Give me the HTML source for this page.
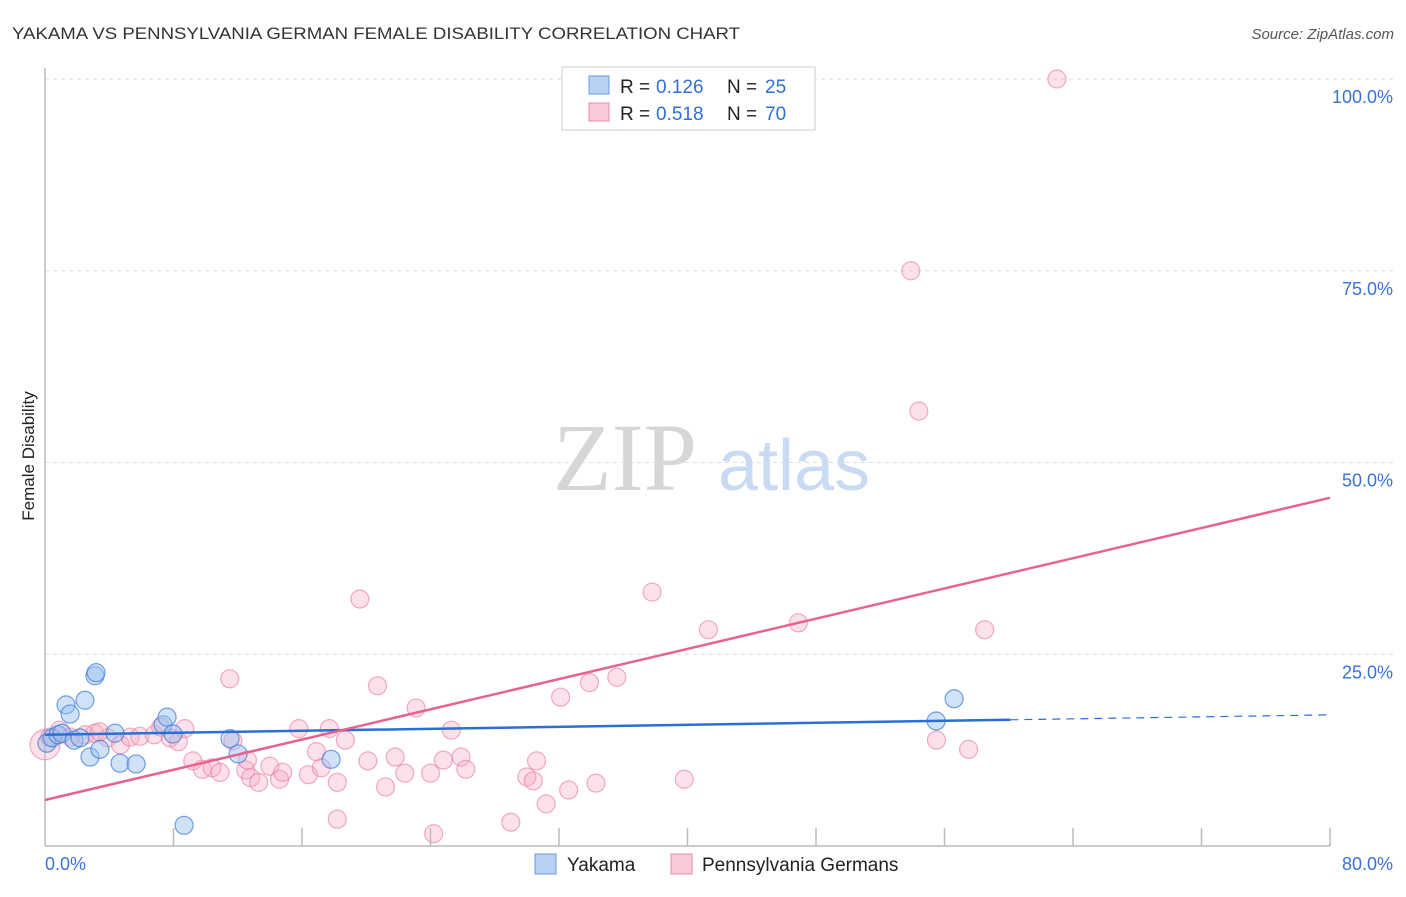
<!DOCTYPE html>
<html><head><meta charset="utf-8"><style>
body{margin:0;background:#fff;font-family:"Liberation Sans",sans-serif;}
svg text{font-family:"Liberation Sans",sans-serif;}
</style></head><body>
<svg id="chart" width="1406" height="892" xmlns="http://www.w3.org/2000/svg">
<text x="12" y="39" font-size="17" fill="#333" textLength="728" lengthAdjust="spacingAndGlyphs">YAKAMA VS PENNSYLVANIA GERMAN FEMALE DISABILITY CORRELATION CHART</text>
<text x="1394" y="39" font-size="15" fill="#555" text-anchor="end" font-style="italic">Source: ZipAtlas.com</text>
<text transform="translate(34,456) rotate(-90)" font-size="17" fill="#222" text-anchor="middle">Female Disability</text>
<g>
<text x="553" y="490" font-size="96" fill="#d6d6d6" style="font-family:'Liberation Serif',serif">ZIP</text>
<text x="718" y="490" font-size="72" fill="#c9daf3">atlas</text>
</g>
<g id="grid"></g><g id="axes"></g><g id="pts"></g><g id="lines"></g>
<g>
<rect x="562" y="67" width="253" height="63" fill="#fff" stroke="#ccc"/>
<rect x="589" y="76" width="20" height="18" fill="#b8d1f3" stroke="#6a9ae0"/>
<text x="620" y="93" font-size="19" fill="#222">R =</text>
<text x="656" y="93" font-size="19" fill="#2f6fd6">0.126</text>
<text x="727" y="93" font-size="19" fill="#222">N =</text>
<text x="765" y="93" font-size="19" fill="#2f6fd6">25</text>
<rect x="589" y="103" width="20" height="18" fill="#f9c9d8" stroke="#e98aa8"/>
<text x="620" y="120" font-size="19" fill="#222">R =</text>
<text x="656" y="120" font-size="19" fill="#2f6fd6">0.518</text>
<text x="727" y="120" font-size="19" fill="#222">N =</text>
<text x="765" y="120" font-size="19" fill="#2f6fd6">70</text>
</g>
<g>
<rect x="535" y="854" width="21" height="20" fill="#b8d1f3" stroke="#6a9ae0"/>
<text x="567" y="871" font-size="19" fill="#222">Yakama</text>
<rect x="671" y="854" width="21" height="20" fill="#f9c9d8" stroke="#e98aa8"/>
<text x="702" y="871" font-size="19" fill="#222">Pennsylvania Germans</text>
</g>
</svg>
<script>
const yTicks=[100,75,50,25];
const xTickLabels=["0.0%","80.0%"];
const blueX=[0.12,0.44,0.81,1.06,1.31,1.56,1.81,2.18,2.49,2.80,3.11,3.18,3.42,4.36,4.67,5.67,7.35,7.60,7.97,8.66,11.52,12.02,17.81,55.48,56.60];
const blueY=[13.4,14.1,14.5,14.7,18.4,17.2,13.8,14.1,19.0,11.6,22.2,22.6,12.6,14.7,10.8,10.7,15.8,16.8,14.6,2.7,14.0,12.0,11.3,16.3,19.2];
const pinkX=[63.0,53.9,54.4,37.8,19.6,41.3,46.9,58.5,11.5,20.7,32.1,33.9,35.6,23.1,0,0.3,0.9,1.6,2.5,3.1,3.9,4.7,5.3,5.9,6.8,7.2,7.8,8.3,8.7,9.2,9.8,10.4,10.9,11.7,12.5,12.8,13.3,14.0,14.6,14.8,15.8,16.4,16.9,17.2,17.7,18.2,18.7,20.1,21.2,21.8,22.4,24.0,24.2,24.8,25.3,25.9,26.2,29.0,30.0,30.4,30.6,31.2,32.6,34.3,39.8,55.5,57.5,18.2,12.6,3.4];
const pinkY=[100.0,75.0,56.7,33.1,32.2,28.2,29.1,28.2,21.8,20.9,19.4,21.3,22.0,18.0,13.2,14.2,15.1,14.2,14.5,14.7,14.1,13.2,14.2,14.3,14.5,15.5,14.1,13.6,15.3,11.1,10.0,10.2,9.6,13.7,9.9,8.9,8.3,10.4,8.7,9.6,15.3,9.3,12.3,10.2,15.3,8.3,13.8,11.1,7.7,11.6,9.5,9.5,1.6,11.2,15.1,11.6,10.0,3.1,9.0,8.5,11.1,5.5,7.3,8.2,8.7,13.8,12.6,3.5,11.2,14.9];
const blueLine=[14.5,17.1];
const pinkLine=[6.0,45.4];
const blueSolidEnd=60.1;

const NS="http://www.w3.org/2000/svg";
const X0=45,X1=1330,Y0=846,Y100=79;
const sx=v=>X0+(v/80)*(X1-X0);
const sy=v=>Y0-(v/100)*(Y0-Y100);
function mk(tag,attrs,parent){const e=document.createElementNS(NS,tag);for(const k in attrs)e.setAttribute(k,attrs[k]);document.getElementById(parent).appendChild(e);return e;}

yTicks.forEach(t=>{
  const l=mk('line',{x1:X0,x2:1395,y1:sy(t),y2:sy(t),stroke:'#ddd','stroke-dasharray':'4,4'},'grid');
  
  
  const tx=mk('text',{x:1393,y:sy(t)+24,'font-size':18,fill:'#3a72d8','text-anchor':'end'},'grid');
  tx.textContent=t.toFixed(1)+'%';
  
  
});
let ax=mk('line',{x1:X0,x2:X0,y1:68,y2:846,stroke:'#bbb','stroke-width':1.5},'axes');


let bx=mk('line',{x1:X0,x2:X1,y1:846,y2:846,stroke:'#bbb','stroke-width':1.5},'axes');


for(let i=1;i<=10;i++){
  const t=mk('line',{x1:sx(i*8),x2:sx(i*8),y1:828,y2:846,stroke:'#bbb','stroke-width':1.5},'axes');
  
  
}
[[0,'start',45],[80,'end',1393]].forEach((a,i)=>{
  const t=mk('text',{x:a[2],y:870,'font-size':18,fill:'#3a72d8','text-anchor':a[1]},'axes');
  t.textContent=xTickLabels[i];
  
  
});
pinkX.forEach((x,i)=>{
  const c=mk('circle',{cx:sx(x),cy:sy(pinkY[i]),r:i==14?15:9,fill:'rgba(246,170,195,0.35)',stroke:'rgba(232,120,155,0.6)','stroke-width':1.2},'pts');
  
  
});
blueX.forEach((x,i)=>{
  const c=mk('circle',{cx:sx(x),cy:sy(blueY[i]),r:9,fill:'rgba(150,190,240,0.45)',stroke:'rgba(60,120,215,0.7)','stroke-width':1.2},'pts');
  
  
});
const by=x=>blueLine[0]+(blueLine[1]-blueLine[0])*x/80;
let l1=mk('line',{x1:sx(0),y1:sy(by(0)),x2:sx(blueSolidEnd),y2:sy(by(blueSolidEnd)),stroke:'#2a6fd6','stroke-width':2.5},'lines');


let l2=mk('line',{x1:sx(blueSolidEnd),y1:sy(by(blueSolidEnd)),x2:sx(80),y2:sy(by(80)),stroke:'#2a6fd6','stroke-width':1.2,'stroke-dasharray':'8,6'},'lines');


let l3=mk('line',{x1:sx(0),y1:sy(pinkLine[0]),x2:sx(80),y2:sy(pinkLine[1]),stroke:'#e8628e','stroke-width':2.5},'lines');


</script>
</body></html>
